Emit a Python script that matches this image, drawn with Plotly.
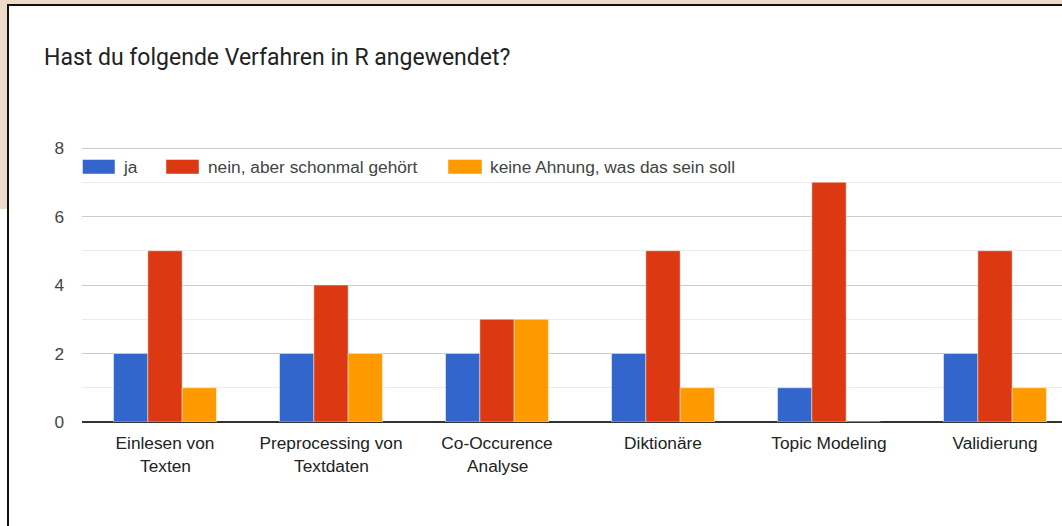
import plotly.graph_objects as go

categories_line1 = ["Einlesen von", "Preprocessing von", "Co-Occurence", "Diktionäre", "Topic Modeling", "Validierung"]
categories_line2 = ["Texten", "Textdaten", "Analyse", "", "", ""]
series_names = ["ja", "nein, aber schonmal gehört", "keine Ahnung, was das sein soll"]
ja = [2, 2, 2, 2, 1, 2]
nein = [5, 4, 3, 5, 7, 5]
keine = [1, 2, 3, 1, 0, 1]
colors = ["#3366cc", "#dc3912", "#ff9900"]
y_ticks = [0, 2, 4, 6, 8]

W, H = 1062, 526
L, R, T, B = 82, 1062, 146, 422  # plot area pixels
UNIT = (422 - 148) / 8.0  # pixels per value unit
FS = 17.3


def px(x):
    return (x - L) / (R - L)


def py(y):
    return (B - y) / (B - T)


fig = go.Figure()
for name, vals, col in zip(series_names, [ja, nein, keine], colors):
    fig.add_trace(go.Bar(
        x=list(range(len(categories_line1))), y=vals, name=name,
        marker=dict(color=col, line=dict(color="rgba(255,255,255,0.45)", width=1)),
        showlegend=False,
    ))

shapes = []
annotations = []
beige = "#ecdcc7"
shapes.append(dict(type="rect", xref="paper", yref="paper", x0=px(0), x1=px(7.5), y0=py(209), y1=py(0),
                   fillcolor=beige, line=dict(width=0), layer="above"))
shapes.append(dict(type="rect", xref="paper", yref="paper", x0=px(0), x1=px(1062), y0=py(4), y1=py(0),
                   fillcolor=beige, line=dict(width=0), layer="above"))
shapes.append(dict(type="line", xref="paper", yref="paper", x0=px(8), x1=px(8), y0=py(4), y1=py(527),
                   line=dict(color="#111111", width=2), layer="above"))
shapes.append(dict(type="line", xref="paper", yref="paper", x0=px(7), x1=px(1062), y0=py(5), y1=py(5),
                   line=dict(color="#111111", width=2), layer="above"))

# legend (manual, wide swatches)
leg_items = [(82.5, 115, 123), (166, 199, 208), (448, 482, 490)]
for (sx0, sx1, tx), name, col in zip(leg_items, series_names, colors):
    shapes.append(dict(type="rect", xref="paper", yref="paper", x0=px(sx0), x1=px(sx1),
                       y0=py(174), y1=py(159.5), fillcolor=col,
                       line=dict(color="rgba(255,255,255,0.45)", width=1), layer="above"))
    annotations.append(dict(xref="paper", yref="paper", x=px(tx) - 0.002, y=py(167), text=name,
                            showarrow=False, xanchor="left", yanchor="middle",
                            font=dict(family="Liberation Sans, Arial", size=FS, color="#444444")))

# second lines of category labels
for i, t in enumerate(categories_line2):
    if t:
        annotations.append(dict(xref="x", yref="paper", x=i, y=py(466), text=t, showarrow=False,
                                xanchor="center", yanchor="middle",
                                font=dict(family="Liberation Sans, Arial", size=FS, color="#222222")))

fig.update_layout(
    width=W, height=H,
    margin=dict(l=L, r=W - R, t=T, b=H - B, pad=0),
    paper_bgcolor="white", plot_bgcolor="white",
    bargap=0.38, bargroupgap=0.0, barmode="group",
    title=dict(text="Hast du folgende Verfahren in R angewendet?", xref="container", yref="container",
               x=44 / W, xanchor="left", y=1 - 57 / H, yanchor="middle",
               font=dict(family="Roboto", size=23, color="#222222")),
    shapes=shapes, annotations=annotations,
    xaxis=dict(range=[-0.5, -0.5 + (R - L) / 166.0], tickmode="array",
               tickvals=list(range(len(categories_line1))), ticktext=categories_line1,
               showgrid=False, zeroline=False, showline=False, ticks="",
               tickfont=dict(family="Liberation Sans, Arial", size=FS, color="#222222"),
               ticklabelstandoff=9, fixedrange=True),
    yaxis=dict(range=[0, (B - T) / UNIT], tickmode="array", tickvals=y_ticks,
               showgrid=True, gridcolor="#cccccc", gridwidth=1,
               minor=dict(tickmode="array", tickvals=[1, 3, 5, 7], showgrid=True, gridcolor="#ebebeb", gridwidth=1),
               zeroline=True, zerolinecolor="#333333", zerolinewidth=1.5,
               showline=False, ticks="",
               tickfont=dict(family="Liberation Sans, Arial", size=FS, color="#444444"),
               ticklabelstandoff=17, fixedrange=True),
)

fig.write_html("out.html", config={"displayModeBar": False},
               post_script="document.body.style.margin='0';document.body.style.padding='0';")
